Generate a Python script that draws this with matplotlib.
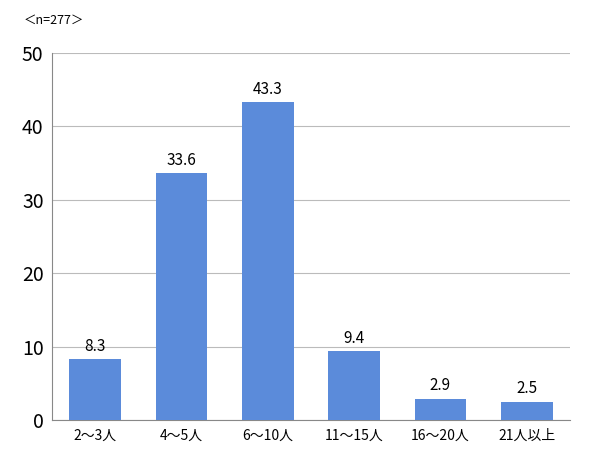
import matplotlib
matplotlib.use("Agg")
import matplotlib.pyplot as plt

plt.rcParams['font.family'] = ['Noto Sans CJK JP', 'DejaVu Sans']

categories = ["2～3人", "4～5人", "6～10人", "11～15人", "16～20人", "21人以上"]
values = [8.3, 33.6, 43.3, 9.4, 2.9, 2.5]
yticks = [0, 10, 20, 30, 40, 50]

fig = plt.figure(figsize=(5.9, 4.55), dpi=100)
ax = fig.add_axes([0.088, 0.077, 0.878, 0.807])
x = range(len(categories))
ax.bar(x, values, width=0.6, color="#5B8BDA", zorder=3)
for i, v in zip(x, values):
    ax.text(i, v + 0.6, f"{v}", ha="center", va="bottom", fontsize=11)
ax.set_xlim(-0.5, len(categories) - 0.5)
ax.set_ylim(0, 50)
ax.set_yticks(yticks)
ax.set_xticks(list(x))
ax.set_xticklabels(categories, fontsize=10)
ax.tick_params(axis='y', labelsize=14, length=0, pad=6)
ax.tick_params(axis='x', length=0, pad=6)
ax.grid(axis='y', color="#BBBBBB", linewidth=0.8, zorder=0)
for s in ["top", "right"]:
    ax.spines[s].set_visible(False)
ax.spines["left"].set_color("#888888")
ax.spines["bottom"].set_color("#888888")
fig.text(0.04, 0.955, "＜n=277＞", fontsize=9, ha="left", va="center")
fig.savefig("out.png", dpi=100)
